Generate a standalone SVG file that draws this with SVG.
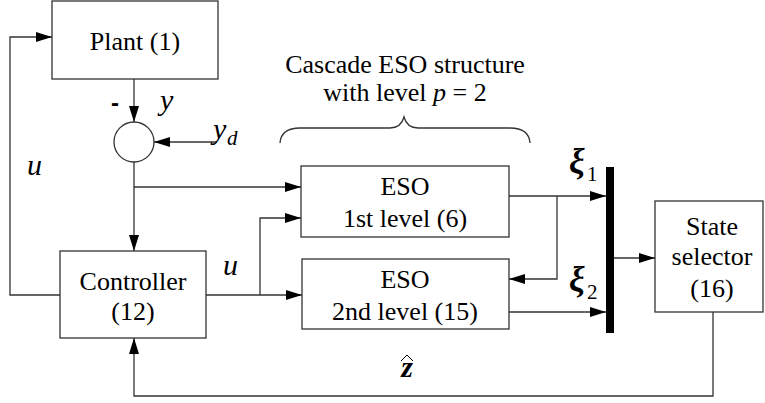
<svg xmlns="http://www.w3.org/2000/svg" width="765" height="403" viewBox="0 0 765 403">
  <defs>
    <marker id="arr" viewBox="0 0 16 10" refX="16" refY="5" markerWidth="16" markerHeight="10" markerUnits="userSpaceOnUse" orient="auto">
      <path d="M0,0 L16,5 L0,10 Z" fill="#000"/>
    </marker>
  </defs>
  <style>
    .box { fill: #fff; stroke: #333; stroke-width: 1.3; }
    .wire { fill: none; stroke: #333; stroke-width: 1.3; }
    .arrow { marker-end: url(#arr); }
    .lbl { font-family: "Liberation Serif", "Times New Roman", serif; font-size: 26px; fill: #000; text-anchor: middle; }
    .math { font-family: "Liberation Serif", "Times New Roman", serif; font-style: italic; font-size: 30px; fill: #000; }
    .sub { font-family: "Liberation Serif", "Times New Roman", serif; font-size: 21px; fill: #000; }
    .xi { font-family: "Liberation Serif", "Times New Roman", serif; font-style: italic; font-weight: bold; font-size: 35px; fill: #000; }
  </style>
  <rect width="765" height="403" fill="#fff"/>

  <!-- connectors -->
  <g id="connectors">
    <path class="wire arrow" d="M60,295 L10,295 L10,37 L52,37"/>
    <path class="wire arrow" d="M134,79 L134,122"/>
    <path class="wire arrow" d="M217,142 L154,142"/>
    <path class="wire arrow" d="M134,162 L134,187 L301,187"/>
    <path class="wire arrow" d="M134,187 L134,251"/>
    <path class="wire arrow" d="M206,295 L302,295"/>
    <path class="wire arrow" d="M260,295 L260,218 L301,218"/>
    <path class="wire arrow" d="M509,196 L606,196"/>
    <path class="wire arrow" d="M557,196 L557,279 L509,279"/>
    <path class="wire arrow" d="M509,312 L606,312"/>
    <path class="wire arrow" d="M614,258 L655,258"/>
    <path class="wire arrow" d="M713,312 L713,396 L134,396 L134,338"/>
  </g>

  <!-- plant -->
  <g id="plant">
    <rect class="box" x="52" y="1" width="166" height="78"/>
    <text class="lbl" x="135" y="50">Plant (1)</text>
  </g>

  <!-- summing junction -->
  <g id="sum">
    <circle class="box" cx="134" cy="142" r="20"/>
    <text x="111" y="111" style="font-family:'Liberation Sans',Arial,sans-serif;font-size:24px;font-weight:bold">-</text>
    <text class="math" x="160" y="110">y</text>
    <text class="math" x="213" y="139">y</text>
    <text class="sub" x="227" y="145" style="font-style:italic">d</text>
  </g>

  <!-- controller -->
  <g id="controller">
    <rect class="box" x="60" y="251" width="146" height="87"/>
    <text class="lbl" x="133" y="290">Controller</text>
    <text class="lbl" x="133" y="320">(12)</text>
  </g>

  <!-- signal labels u -->
  <g id="labels-u">
    <text class="math" x="27" y="175">u</text>
    <text class="math" x="223" y="275">u</text>
  </g>

  <!-- cascade caption and brace -->
  <g id="caption">
    <text class="lbl" x="405" y="73">Cascade ESO structure</text>
    <text class="lbl" x="405" y="101">with level <tspan font-style="italic">p</tspan> = 2</text>
    <path class="wire" d="M280,143 Q281,128 300,128 L390,128 Q401,128 404,117 Q407,128 418,128 L510,128 Q529,128 530,143"/>
  </g>

  <!-- ESO first level -->
  <g id="eso1">
    <rect class="box" x="301" y="166" width="208" height="71"/>
    <text class="lbl" x="405" y="195">ESO</text>
    <text class="lbl" x="405" y="227">1st level (6)</text>
  </g>

  <!-- ESO second level -->
  <g id="eso2">
    <rect class="box" x="302" y="259" width="207" height="70"/>
    <text class="lbl" x="405" y="288">ESO</text>
    <text class="lbl" x="405" y="320">2nd level (15)</text>
  </g>

  <!-- state bus -->
  <g id="bus">
    <rect x="606" y="167" width="8" height="166" fill="#000"/>
    <text class="xi" x="569" y="173">ξ</text>
    <text class="sub" x="587" y="181">1</text>
    <text class="xi" x="569" y="291">ξ</text>
    <text class="sub" x="587" y="299">2</text>
  </g>

  <!-- state selector -->
  <g id="selector">
    <rect class="box" x="655" y="201" width="108" height="111"/>
    <text class="lbl" x="712" y="235">State</text>
    <text class="lbl" x="712" y="265">selector</text>
    <text class="lbl" x="712" y="297">(16)</text>
  </g>

  <!-- estimate label -->
  <g id="zhat">
    <text x="407" y="377" text-anchor="middle" style="font-family:'Liberation Serif',serif;font-style:italic;font-weight:bold;font-size:30px">z</text>
    <path d="M401,361 L407,355 L413,361" fill="none" stroke="#000" stroke-width="1"/>
  </g>
</svg>
